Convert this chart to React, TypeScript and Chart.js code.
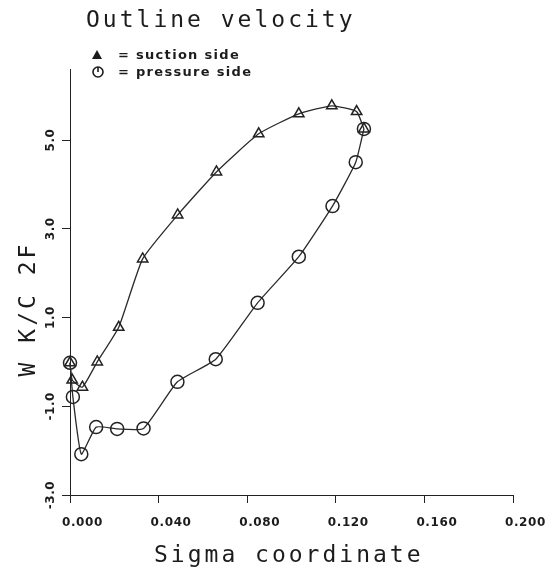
import React, { useEffect, useRef } from "react";
import { Chart, registerables } from "chart.js";

Chart.register(...registerables);

// ---- data ----
const suctionX = [0.0, 0.001, 0.0056, 0.0123, 0.022, 0.0328, 0.0486, 0.0661, 0.0852, 0.1033, 0.1182, 0.1294, 0.1327];
const suctionY = [-0.02, -0.41, -0.57, 0.0, 0.78, 2.32, 3.31, 4.28, 5.14, 5.59, 5.77, 5.64, 5.25];
const pressureX = [0.0, 0.0013, 0.0051, 0.0118, 0.0213, 0.0332, 0.0485, 0.0658, 0.0847, 0.1033, 0.1185, 0.129, 0.1327];
const pressureY = [-0.02, -0.79, -2.08, -1.47, -1.51, -1.5, -0.45, 0.06, 1.33, 2.37, 3.51, 4.5, 5.25];

const xTicks = [0, 0.04, 0.08, 0.12, 0.16, 0.2];
const yTicks = [-3, -1, 1, 3, 5];
const xMin = 0;
const xMax = 0.2;
const yMin = -3;
const yMax = 6.6;

const titleText = "Outline velocity";
const xTitle = "Sigma coordinate";
const yTitle = "W K/C 2F";
const legendLabels = ["= suction side", "= pressure side"];

const INK = "#1c1c1c";

const textPlugin = {
  id: "plotterTexts",
  beforeDraw(chart: any) {
    (chart.ctx as any).letterSpacing = "0.6px";
  },
  afterDraw(chart: any) {
    const ctx = chart.ctx as any;
    ctx.save();
    ctx.fillStyle = INK;
    ctx.strokeStyle = INK;
    ctx.letterSpacing = "3px";
    ctx.font = '23px "DejaVu Sans Mono"';
    ctx.textAlign = "left";
    ctx.textBaseline = "alphabetic";
    ctx.fillText(titleText, 86, 27);
    ctx.fillText(xTitle, 154, 562);
    ctx.save();
    ctx.translate(35, 309);
    ctx.rotate(-Math.PI / 2);
    ctx.textAlign = "center";
    ctx.fillText(yTitle, 0, 0);
    ctx.restore();

    // legend
    ctx.letterSpacing = "1.3px";
    ctx.font = 'bold 13px "DejaVu Sans"';
    ctx.textBaseline = "middle";
    ctx.fillText(legendLabels[0], 118, 56);
    ctx.fillText(legendLabels[1], 118, 73);
    // triangle symbol
    ctx.beginPath();
    ctx.moveTo(97, 50);
    ctx.lineTo(102, 59);
    ctx.lineTo(92, 59);
    ctx.closePath();
    ctx.fill();
    // circle symbol
    ctx.lineWidth = 1.6;
    ctx.beginPath();
    ctx.arc(98, 72, 5, 0, Math.PI * 2);
    ctx.stroke();
    ctx.beginPath();
    ctx.moveTo(98, 67);
    ctx.lineTo(98, 72);
    ctx.stroke();
    ctx.restore();
  },
};

export default function App() {
  const ref = useRef<HTMLCanvasElement | null>(null);

  useEffect(() => {
    if (!ref.current) return;
    const suction = suctionX.map((x, i) => ({ x, y: suctionY[i] }));
    const pressure = pressureX.map((x, i) => ({ x, y: pressureY[i] }));
    const tickFont = { family: "DejaVu Sans", weight: "bold" as const, size: 12 };

    const chart = new Chart(ref.current, {
      type: "scatter",
      data: {
        datasets: [
          {
            label: "suction side",
            data: suction,
            showLine: true,
            tension: 0.15,
            borderColor: "#2a2a2a",
            borderWidth: 1.3,
            pointStyle: "triangle",
            pointRadius: 6,
            pointBorderWidth: 1.5,
            pointBorderColor: "#222",
            pointBackgroundColor: "rgba(0,0,0,0)",
            clip: false,
          },
          {
            label: "pressure side",
            data: pressure,
            showLine: true,
            tension: 0.15,
            borderColor: "#2a2a2a",
            borderWidth: 1.3,
            pointStyle: "circle",
            pointRadius: 6.5,
            pointBorderWidth: 1.5,
            pointBorderColor: "#222",
            pointBackgroundColor: "rgba(0,0,0,0)",
            clip: false,
          },
        ],
      },
      options: {
        responsive: false,
        animation: false,
        devicePixelRatio: 1,
        layout: { padding: { top: 69, right: 39, left: 0, bottom: 0 } },
        plugins: {
          legend: { display: false },
          title: { display: false },
          tooltip: { enabled: false },
        },
        scales: {
          x: {
            type: "linear",
            position: "bottom",
            min: xMin,
            max: xMax,
            afterBuildTicks: (s: any) => {
              s.ticks = xTicks.map((v) => ({ value: v }));
            },
            afterFit: (s: any) => {
              s.height = 78;
              s.paddingLeft = 0;
              s.paddingRight = 0;
            },
            ticks: {
              autoSkip: false,
              minRotation: 0,
              maxRotation: 0,
              align: "start",
              labelOffset: -8,
              padding: 13,
              color: INK,
              font: tickFont,
              callback: (v: any) => Number(v).toFixed(3),
            },
            grid: { drawOnChartArea: false, drawTicks: true, tickLength: 8, color: "#222", lineWidth: 1 },
            border: { display: true, color: "#222", width: 1 },
          },
          y: {
            type: "linear",
            position: "left",
            min: yMin,
            max: yMax,
            afterBuildTicks: (s: any) => {
              s.ticks = yTicks.map((v) => ({ value: v }));
            },
            afterFit: (s: any) => {
              s.width = 70;
              s.paddingTop = 0;
              s.paddingBottom = 0;
            },
            ticks: {
              autoSkip: false,
              minRotation: 90,
              maxRotation: 90,
              crossAlign: "center",
              padding: -2,
              color: INK,
              font: tickFont,
              callback: (v: any) => Number(v).toFixed(1),
            },
            grid: { drawOnChartArea: false, drawTicks: true, tickLength: 8, color: "#222", lineWidth: 1 },
            border: { display: true, color: "#222", width: 1 },
          },
        },
      },
      plugins: [textPlugin],
    } as any);

    return () => chart.destroy();
  }, []);

  return (
    <div style={{ position: "fixed", left: 0, top: 0, width: 552, height: 573, background: "#fff" }}>
      <canvas ref={ref} width={552} height={573} style={{ display: "block" }} />
    </div>
  );
}
